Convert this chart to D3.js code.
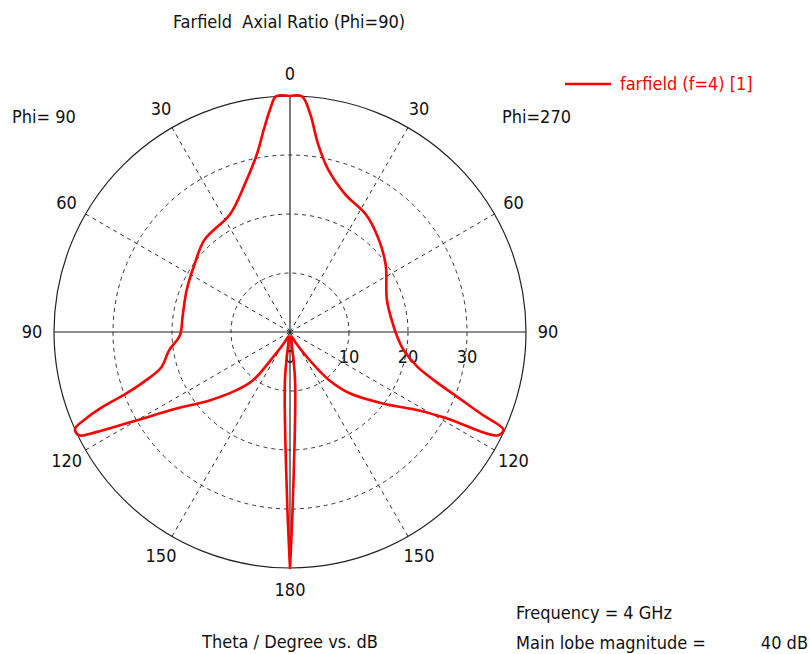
<!DOCTYPE html>
<html><head><meta charset="utf-8">
<script src="https://cdn.jsdelivr.net/npm/d3@7"></script>
<style>
body{margin:0;background:#fff}
text{font-family:'DejaVu Sans Condensed','DejaVu Sans',sans-serif;fill:#111;white-space:pre}
</style>
</head><body>
<svg id="chart" width="810" height="654"></svg>
<script>
// Axial ratio (dB) versus theta (deg) in the two half-planes of the Phi=90 cut
const thetaPhi90 = [0, 3.4, 5.1, 7.3, 10.6, 17, 27, 43, 55, 68, 81, 92, 98.5, 105.3, 108.5, 110.6, 111.8, 113, 114.3, 116.1, 117.3, 119.9, 124, 130.4, 137.4, 142.5, 146, 152, 160, 167, 174, 179, 180];
const arPhi90    = [40, 40, 37.9, 34.7, 30.6, 26.2, 22.4, 21.3, 19.8, 18.9, 18.4, 18.7, 20.7, 22.6, 25.7, 29.7, 34.2, 37.6, 40, 39.8, 37, 30.1, 23.2, 17.9, 13.4, 10.3, 5.2, 2, 0.8, 1, 8.2, 28.3, 40];
const thetaPhi270 = [0, 2.9, 5.3, 8.5, 13.2, 22, 33, 44, 55, 71.7, 87.1, 92.5, 99, 105.3, 108.5, 111.2, 113.2, 114.6, 116.5, 118.8, 121.3, 127.4, 135.6, 141, 146, 152, 160, 167, 174, 179, 180];
const arPhi270    = [40, 40, 37.1, 32.2, 28.3, 25.1, 23.7, 21.7, 19.8, 17.3, 17.6, 18.2, 19.5, 22.4, 25.7, 30.4, 35.2, 39.8, 39.3, 30.5, 25.6, 20, 14.6, 10.4, 5.1, 2, 0.8, 1, 8.2, 28.3, 40];

const angleTicks = [0, 30, 60, 90, 120, 150, 180];
const gridAngles = [30, 60, 120, 150];
const radialTicks = [0, 10, 20, 30];
const maxDb = 40;

const svg = d3.select("#chart");
const cx = 290, cy = 332, R = 236;
const FS = 18;
const g = svg.append("g").attr("transform", `translate(${cx},${cy})`);

const r = d3.scaleLinear().domain([0, maxDb]).range([0, R]).clamp(true);
const toRad = d => d * Math.PI / 180;

// dashed rings
g.selectAll("circle.ring").data(radialTicks.filter(v => v > 0)).join("circle")
  .attr("class", "ring").attr("r", d => r(d))
  .attr("fill", "none").attr("stroke", "#333").attr("stroke-width", 1)
  .attr("stroke-dasharray", "4,4");

// dashed spokes on both half-planes
const spokes = gridAngles.flatMap(a => [a, -a]);
g.selectAll("line.spoke").data(spokes).join("line")
  .attr("class", "spoke")
  .attr("x1", 0).attr("y1", 0)
  .attr("x2", d => R * Math.sin(toRad(d)))
  .attr("y2", d => -R * Math.cos(toRad(d)))
  .attr("stroke", "#333").attr("stroke-width", 1)
  .attr("stroke-dasharray", "4,4");

// solid axes
g.append("line").attr("x1", 0).attr("x2", 0).attr("y1", -R).attr("y2", R)
  .attr("stroke", "#222").attr("stroke-width", 1.2);
g.append("line").attr("x1", -R).attr("x2", R).attr("y1", 0).attr("y2", 0)
  .attr("stroke", "#222").attr("stroke-width", 1.2);

// outer boundary
g.append("circle").attr("r", r(maxDb)).attr("fill", "none")
  .attr("stroke", "#222").attr("stroke-width", 1.2);

// theta labels: left half Phi=90, right half Phi=270
const labR = R + 22;
const angleLabels = [];
angleTicks.forEach(t => {
  if (t === 0 || t === 180) angleLabels.push({t, a: t});
  else { angleLabels.push({t, a: -t}); angleLabels.push({t, a: t}); }
});
g.selectAll("text.ang").data(angleLabels).join("text")
  .attr("class", "ang")
  .attr("x", d => labR * Math.sin(toRad(d.a)))
  .attr("y", d => -labR * Math.cos(toRad(d.a)))
  .attr("dy", "0.36em").attr("text-anchor", "middle")
  .attr("font-size", FS).text(d => d.t);

// radial dB labels along the horizontal axis
g.selectAll("text.rad").data(radialTicks).join("text")
  .attr("class", "rad")
  .attr("x", d => r(d)).attr("y", 25)
  .attr("dy", "0.36em").attr("text-anchor", "middle")
  .attr("font-size", FS).text(d => d);

// curve: Phi=270 side drawn clockwise from the top, Phi=90 side returns counter-clockwise
const pts = [];
thetaPhi270.forEach((t, i) => pts.push({a: toRad(t), v: arPhi270[i]}));
for (let i = thetaPhi90.length - 1; i >= 0; i--) pts.push({a: -toRad(thetaPhi90[i]), v: arPhi90[i]});

const line = d3.lineRadial().angle(d => d.a).radius(d => r(d.v))
  .curve(d3.curveCatmullRom.alpha(0.5));
g.append("path").datum(pts).attr("d", line)
  .attr("fill", "none").attr("stroke", "#ff0000").attr("stroke-width", 2.6)
  .attr("stroke-linejoin", "round");

// titles and annotations
svg.append("text").attr("x", 289).attr("y", 22).attr("dy", "0.36em")
  .attr("text-anchor", "middle").attr("font-size", FS)
  .text("Farfield  Axial Ratio (Phi=90)");
svg.append("text").attr("x", 12).attr("y", 117).attr("dy", "0.36em")
  .attr("font-size", FS).text("Phi= 90");
svg.append("text").attr("x", 502).attr("y", 117).attr("dy", "0.36em")
  .attr("font-size", FS).text("Phi=270");

// legend
svg.append("line").attr("x1", 565).attr("x2", 611).attr("y1", 84).attr("y2", 84)
  .attr("stroke", "#ff0000").attr("stroke-width", 2.6);
svg.append("text").attr("x", 620).attr("y", 84).attr("dy", "0.36em")
  .attr("font-size", FS).style("fill", "#ff0000").text("farfield (f=4) [1]");

svg.append("text").attr("x", 290).attr("y", 642).attr("dy", "0.36em")
  .attr("text-anchor", "middle").attr("font-size", FS).text("Theta / Degree vs. dB");
svg.append("text").attr("x", 516).attr("y", 613).attr("dy", "0.36em")
  .attr("font-size", FS).text("Frequency = 4 GHz");
svg.append("text").attr("x", 516).attr("y", 643).attr("dy", "0.36em")
  .attr("font-size", FS).text("Main lobe magnitude =");
svg.append("text").attr("x", 808).attr("y", 643).attr("dy", "0.36em")
  .attr("text-anchor", "end").attr("font-size", FS).text("40 dB");
</script>
</body></html>
